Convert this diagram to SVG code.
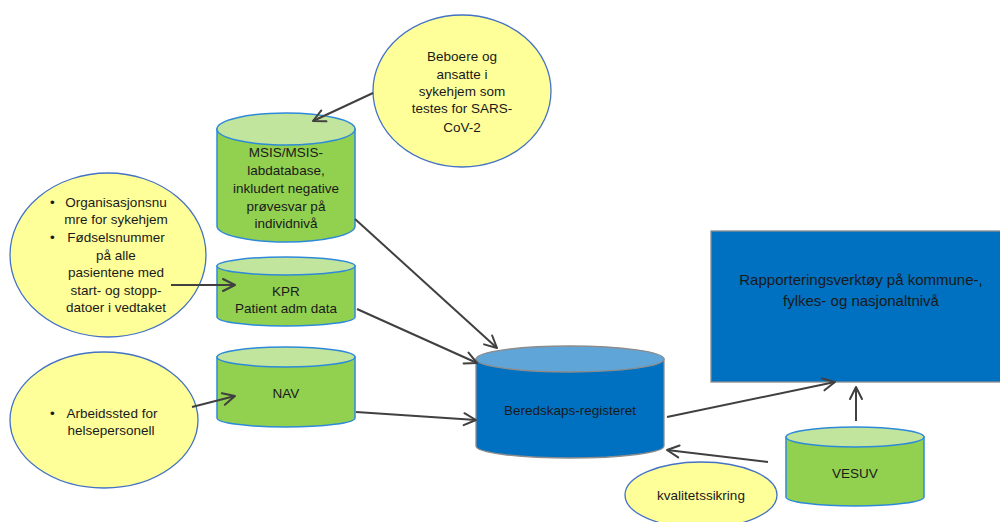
<svg xmlns="http://www.w3.org/2000/svg" width="1000" height="522" viewBox="0 0 1000 522">
  <defs>
    <marker id="arr" markerUnits="userSpaceOnUse" markerWidth="16" markerHeight="16" viewBox="-14 -8 16 16" refX="0" refY="0" orient="auto">
      <polyline points="-12,-6 0,0 -12,6" fill="none" stroke="#404040" stroke-width="2" stroke-linecap="round" stroke-linejoin="round"/>
    </marker>
  </defs>
  <style>
    text { font-family: "Liberation Sans", Arial, sans-serif; font-size: 13.5px; fill: #1a1a1a; text-anchor: middle; }
    .yel { fill: #ffff99; stroke: #4472c4; stroke-width: 1.3; }
    .gbody { fill: #92d050; stroke: #2e8ad8; stroke-width: 1.5; }
    .gtop { fill: #c2e59e; stroke: #2e8ad8; stroke-width: 1.5; }
    .bbody { fill: #0070c0; stroke: #8c8c8c; stroke-width: 1.3; }
    .btop { fill: #60a5d8; stroke: #8c8c8c; stroke-width: 1.3; }
    .conn line { stroke: #404040; stroke-width: 2; marker-end: url(#arr); }
    .bl { text-anchor: start; }
  </style>
  <rect width="1000" height="522" fill="#ffffff"/>

  <g id="beboere">
    <ellipse class="yel" cx="462" cy="91" rx="89" ry="76"/>
    <text x="462" y="61">Beboere og</text>
    <text x="462" y="79">ansatte i</text>
    <text x="462" y="96">sykehjem som</text>
    <text x="462" y="113">testes for SARS-</text>
    <text x="462" y="132">CoV-2</text>
  </g>

  <g id="organisasjon">
    <ellipse class="yel" cx="108" cy="255" rx="98" ry="82"/>
    <text class="bl" x="50" y="207">•</text>
    <text x="116" y="207">Organisasjonsnu</text>
    <text x="116" y="224">mre for sykehjem</text>
    <text class="bl" x="50" y="242">•</text>
    <text x="116" y="242">Fødselsnummer</text>
    <text x="116" y="260">på alle</text>
    <text x="116" y="277">pasientene med</text>
    <text x="116" y="295">start- og stopp-</text>
    <text x="116" y="312">datoer i vedtaket</text>
  </g>

  <g id="arbeidssted">
    <ellipse class="yel" cx="104" cy="420" rx="94" ry="68"/>
    <text class="bl" x="50" y="418">•</text>
    <text x="112" y="418">Arbeidssted for</text>
    <text x="111" y="435">helsepersonell</text>
  </g>

  <g id="msis">
    <path class="gbody" d="M217,129 V226 A69,16 0 0 0 355,226 V129 Z"/>
    <ellipse class="gtop" cx="286" cy="129" rx="69" ry="16"/>
    <text x="286" y="157">MSIS/MSIS-</text>
    <text x="286" y="175">labdatabase,</text>
    <text x="286" y="193">inkludert negative</text>
    <text x="286" y="211">prøvesvar på</text>
    <text x="286" y="228">individnivå</text>
  </g>

  <g id="kpr">
    <path class="gbody" d="M217,266 V317 A69,9 0 0 0 355,317 V266 Z"/>
    <ellipse class="gtop" cx="286" cy="266" rx="69" ry="9"/>
    <text x="286" y="296">KPR</text>
    <text x="286" y="313">Patient adm data</text>
  </g>

  <g id="nav">
    <path class="gbody" d="M217,357 V418 A69,9 0 0 0 355,418 V357 Z"/>
    <ellipse class="gtop" cx="286" cy="357" rx="69" ry="10"/>
    <text x="286" y="398">NAV</text>
  </g>

  <g id="beredskap">
    <path class="bbody" d="M476,359 V446 A94,12 0 0 0 664,446 V359 Z"/>
    <ellipse class="btop" cx="570" cy="359" rx="94" ry="13"/>
    <text x="570" y="415">Beredskaps-registeret</text>
  </g>

  <g id="rapport">
    <rect class="bbody" x="711" y="231" width="295" height="151"/>
    <text x="861" y="285" style="font-size:15px">Rapporteringsverktøy på kommune-,</text>
    <text x="861" y="306" style="font-size:15px">fylkes- og nasjonaltnivå</text>
  </g>

  <g id="vesuv">
    <path class="gbody" d="M786,437 V497 A69,9 0 0 0 924,497 V437 Z"/>
    <ellipse class="gtop" cx="855" cy="437" rx="69" ry="10"/>
    <text x="855" y="478">VESUV</text>
  </g>

  <g id="kvalitet">
    <ellipse class="yel" cx="701" cy="495" rx="76" ry="33"/>
    <text x="701" y="500">kvalitetssikring</text>
  </g>

  <g id="connectors" class="conn">
    <line x1="373" y1="93" x2="313" y2="121"/>
    <line x1="171" y1="285" x2="235" y2="285"/>
    <line x1="192" y1="407" x2="235" y2="396"/>
    <line x1="355" y1="219" x2="497" y2="348"/>
    <line x1="357" y1="309" x2="477" y2="363"/>
    <line x1="356" y1="412" x2="476" y2="420"/>
    <line x1="667" y1="417" x2="835" y2="382"/>
    <line x1="856" y1="421" x2="856" y2="387"/>
    <line x1="768" y1="462" x2="667" y2="450"/>
  </g>
</svg>
